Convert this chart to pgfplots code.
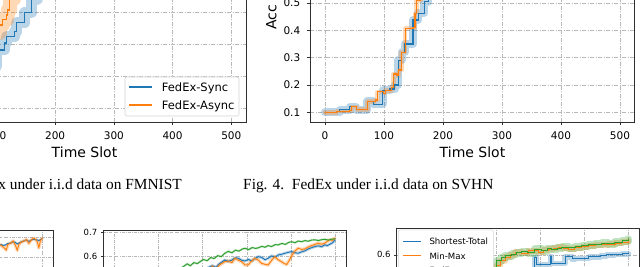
\documentclass[border=0pt]{standalone}
\usepackage{pgfplots}
\pgfplotsset{compat=1.18}
\usepackage{pgfplotstable}
\usepackage{fontspec}
\setmainfont{DejaVu Sans}
\newfontfamily\capfont{Liberation Serif}
\definecolor{mblue}{HTML}{1F77B4}
\definecolor{morange}{HTML}{FF7F0E}
\definecolor{mgreen}{HTML}{2CA02C}
\definecolor{gridc}{HTML}{B8B8B8}
\definecolor{spine}{HTML}{303030}

\pgfplotsset{
  mpl/.style={
    scale only axis,
    axis line style={draw=spine, line width=0.8pt},
    grid=major,
    tick align=outside,
    tick pos=left,
    tick style={draw=spine, line width=0.6pt},
    xtick={0,100,...,500},
    xmin=-25, xmax=525,
    /pgf/number format/assume math mode=true,
    yticklabel style={/pgf/number format/fixed, /pgf/number format/fixed zerofill, /pgf/number format/precision=1},
  },
  big/.style={mpl,
    major tick length=3.5pt,
    major grid style={draw=gridc, line width=0.6pt, dash pattern=on 4pt off 1.5pt on 1pt off 1.5pt},
    tick label style={font=\fontsize{10.5}{12}\selectfont},
    xticklabel style={/tikz/yshift=-3pt},
    yticklabel style={/tikz/xshift=-3pt},
    label style={font=\fontsize{14}{16}\selectfont},
  },
  small/.style={mpl,
    major tick length=2.5pt,
    major grid style={draw=gridc, line width=0.5pt, dash pattern=on 3pt off 1.2pt on 0.7pt off 1.2pt},
    tick label style={font=\fontsize{8.5}{10}\selectfont},
  },
  band/.style={forget plot, opacity=0.3, line join=round, line cap=round},
}

% ---------- top left (FMNIST) ----------
\pgfplotstableread{
x y
60 0.20
80 0.23
100 0.281
114.1 0.303
117 0.322
131.2 0.3375
134.1 0.366
148.2 0.397
159.6 0.44
170 0.48
182 0.52
195 0.56
210 0.60
}\tlb
\pgfplotstableread{
x y
60 0.27
80 0.31
95 0.335
105.6 0.359
110.7 0.375
117.4 0.39
119 0.406
122.6 0.44
130 0.48
140 0.52
152 0.56
165 0.60
}\tlo
% ---------- top right (SVHN) ----------
\pgfplotstableread{
x y
0 0.1
20 0.102
25 0.11
42 0.12
53 0.11
72 0.14
82 0.13
98 0.18
110 0.185
118 0.2
124 0.29
130 0.32
135 0.35
149 0.438
158 0.463
168 0.505
175 0.55
185 0.60
200 0.65
220 0.70
250 0.74
}\trb
\pgfplotstableread{
x y
0 0.1
20 0.104
42 0.108
45 0.12
54 0.11
72 0.14
85 0.145
89 0.175
99 0.17
102 0.18
113 0.19
116 0.24
122 0.235
125 0.255
130 0.32
136 0.408
149 0.41
152.5 0.463
155 0.51
162 0.57
170 0.62
185 0.68
210 0.73
}\tro
% ---------- bottom left ----------
\pgfplotstableread{
x y
395 0.66
405.7 0.665
413.2 0.66
418.5 0.665
422.2 0.67
428.3 0.672
434.3 0.68
439.6 0.675
443.4 0.668
447.1 0.672
452.4 0.678
458.4 0.683
464.5 0.688
469.7 0.68
475 0.688
479.5 0.692
484.8 0.69
488.6 0.688
492.4 0.685
496.1 0.69
500 0.695
}\blb
\pgfplotstableread{
x y
395 0.655
405.7 0.663
413.2 0.649
418.5 0.637
422.2 0.666
428.3 0.671
434.3 0.683
439.6 0.659
443.4 0.636
447.1 0.666
452.4 0.677
458.4 0.683
464.5 0.690
469.7 0.671
475 0.687
479.5 0.697
484.8 0.692
488.6 0.680
492.4 0.649
496.1 0.687
500 0.697
}\blo
% ---------- bottom middle ----------
\pgfplotstableread{
x y
140 0.53
150 0.552
156 0.558
165 0.57
172 0.562
180 0.575
188 0.571
194 0.579
202 0.588
210 0.583
218 0.596
226 0.592
234 0.604
242 0.6
250 0.614
258 0.622
266 0.616
274 0.627
282 0.623
290 0.632
296 0.635
304 0.629
312 0.638
320 0.634
326 0.637
334 0.643
341 0.639
348 0.646
356 0.642
364 0.65
371 0.649
379 0.655
387 0.651
394 0.659
401 0.662
409 0.658
416 0.665
424 0.662
431 0.667
439 0.664
446 0.669
454 0.67
462 0.667
470 0.671
477 0.672
485 0.669
492 0.673
499 0.674
}\bmg
\pgfplotstableread{
x y
140 0.49
150 0.505
158 0.52
166 0.512
174 0.53
182 0.525
190 0.54
198 0.548
206 0.542
214 0.556
222 0.562
230 0.555
238 0.57
244 0.578
250 0.586
258 0.58
266 0.586
274 0.595
281 0.593
288 0.585
296 0.582
304 0.588
311 0.582
318 0.592
326 0.6
334 0.596
341 0.587
348 0.593
356 0.603
364 0.598
371 0.607
379 0.61
386 0.614
394 0.618
401 0.621
409 0.616
416 0.614
424 0.62
431 0.624
439 0.632
446 0.637
454 0.642
462 0.645
469 0.641
476 0.649
482 0.646
488 0.652
494 0.658
499 0.67
}\bmb
\pgfplotstableread{
x y
140 0.47
150 0.49
158 0.51
166 0.498
174 0.522
182 0.515
190 0.535
198 0.528
206 0.548
214 0.54
222 0.56
230 0.548
238 0.566
244 0.572
250 0.579
258 0.582
266 0.575
273 0.593
281 0.585
288 0.579
296 0.565
303 0.566
310 0.58
318 0.593
326 0.585
333 0.572
341 0.568
348 0.565
356 0.585
363 0.6
370 0.588
378 0.579
384 0.572
390 0.567
396 0.585
401 0.603
408 0.622
416 0.635
424 0.63
431 0.632
439 0.64
446 0.646
454 0.651
461 0.656
469 0.652
476 0.656
482 0.664
488 0.67
494 0.668
499 0.677
}\bmo
% ---------- bottom right ----------
\pgfplotstableread{
x y
180 0.56
190 0.575
201.5 0.588
212 0.594
220.4 0.598
235.5 0.601
246 0.604
258 0.606
272 0.604
288 0.611
303 0.608
316 0.612
326 0.611
338 0.613
348.6 0.615
365 0.614
378.7 0.616
394 0.618
408.8 0.62
424 0.621
439 0.623
454 0.622
469 0.625
485 0.628
499.3 0.631
}\brg
\pgfplotstableread{
x y
180 0.555
200 0.578
210 0.588
220.4 0.595
232 0.6
243 0.605
258 0.603
273 0.608
296 0.605
307 0.609
318.6 0.611
330 0.613
341 0.615
352 0.613
363.7 0.611
378 0.614
394 0.616
409 0.618
424 0.62
439 0.62
454 0.621
470 0.623
484.6 0.625
499.7 0.628
}\bro
\pgfplotstableread{
x y
180 0.52
200 0.53
240 0.545
280 0.555
288 0.595
291 0.581
323 0.597
326 0.583
345 0.583
356 0.596
372 0.592
380 0.593
395 0.593
410 0.596
424 0.596
436 0.598
450 0.6
468 0.601
485 0.602
500 0.602
}\brb

\begin{document}
\begin{tikzpicture}
\fill[white] (0pt,0pt) rectangle (640pt,267pt);
\begin{scope}
\clip (0pt,0pt) rectangle (640pt,267pt);

% ===== top left =====
\begin{axis}[big, at={(-77pt,145pt)}, anchor=south west,
  width=323pt, height=209pt, ymin=0.056, ymax=0.709,
  ytick={0.1,0.2,...,0.7}, xlabel={Time Slot}, ylabel={Acc},
]
\addplot[band, mblue, line width=11pt, const plot] table[x=x,y=y]{\tlb};
\addplot[band, morange, line width=14pt, const plot] table[x=x,y=y]{\tlo};
\addplot[mblue, line width=1.2pt, const plot] table[x=x,y=y]{\tlb};
\addplot[morange, line width=1.2pt, const plot] table[x=x,y=y]{\tlo};
\end{axis}

% ===== top right =====
\begin{axis}[big, at={(310.25pt,145pt)}, anchor=south west,
  width=324.5pt, height=209pt, ymin=0.0645, ymax=0.83,
  ytick={0.1,0.2,...,0.8}, xlabel={Time Slot}, ylabel={Acc},
]
\addplot[band, mblue, line width=8pt, const plot] table[x=x,y=y]{\trb};
\addplot[band, morange, line width=4.5pt, const plot] table[x=x,y=y]{\tro};
\addplot[mblue, line width=1.2pt, const plot] table[x=x,y=y]{\trb};
\addplot[morange, line width=1.2pt, const plot] table[x=x,y=y]{\tro};
\end{axis}

% ===== bottom left =====
\begin{axis}[small, at={(53.3pt,37pt)}, anchor=north east,
  width=243.1pt, height=98.6pt, ymin=0.236, ymax=0.739,
  ytick={0.3,0.4,...,0.7},
]
\addplot[band, mblue, line width=2pt] table[x=x,y=y]{\blb};
\addplot[band, morange, line width=3.5pt] table[x=x,y=y]{\blo};
\addplot[mblue, line width=0.9pt] table[x=x,y=y]{\blb};
\addplot[morange, line width=0.9pt] table[x=x,y=y]{\blo};
\end{axis}

% ===== bottom middle =====
\begin{axis}[small, at={(103.25pt,37pt)}, anchor=north west,
  width=243.1pt, height=98.6pt, ymin=0.3, ymax=0.711,
  ytick={0.3,0.4,...,0.7},
]
\addplot[band, mblue, line width=3pt] table[x=x,y=y]{\bmb};
\addplot[band, morange, line width=3.4pt] table[x=x,y=y]{\bmo};
\addplot[band, mgreen, line width=2pt] table[x=x,y=y]{\bmg};
\addplot[mblue, line width=0.9pt] table[x=x,y=y]{\bmb};
\addplot[morange, line width=0.9pt] table[x=x,y=y]{\bmo};
\addplot[mgreen, line width=0.9pt] table[x=x,y=y]{\bmg};
\end{axis}

% ===== bottom right =====
\begin{axis}[small, at={(396.55pt,38.7pt)}, anchor=north west,
  width=243.1pt, height=98.6pt, ymin=0.456, ymax=0.653,
  ytick={0.5,0.6},
]
\addplot[band, mblue, line width=5.5pt, const plot] table[x=x,y=y]{\brb};
\addplot[band, morange, line width=6pt, const plot] table[x=x,y=y]{\bro};
\addplot[band, mgreen, line width=8pt, const plot] table[x=x,y=y]{\brg};
\addplot[mblue, line width=0.9pt, const plot] table[x=x,y=y]{\brb};
\addplot[morange, line width=0.9pt, const plot] table[x=x,y=y]{\bro};
\addplot[mgreen, line width=0.9pt, const plot] table[x=x,y=y]{\brg};
\end{axis}

% ===== legend, top left =====
\draw[draw=gridc!60, line width=0.6pt, rounded corners=2pt, fill=white] (125pt,151pt) rectangle (239pt,190pt);
\draw[mblue, line width=1.2pt] (129pt,180pt) -- (152pt,180pt);
\draw[morange, line width=1.2pt] (129pt,162pt) -- (152pt,162pt);
\node[anchor=base west, inner sep=0pt, font=\fontsize{11.5}{13}\selectfont] at (161.7pt,175.8pt) {FedEx-Sync};
\node[anchor=base west, inner sep=0pt, font=\fontsize{11.5}{13}\selectfont] at (161.7pt,157.8pt) {FedEx-Async};

% ===== legend, bottom right =====
\draw[draw=gridc!60, line width=0.5pt, rounded corners=2pt, fill=white] (398.3pt,37pt) rectangle (493.3pt,-20pt);
\draw[mblue, line width=1pt] (403.3pt,25.3pt) -- (421.3pt,25.3pt);
\draw[morange, line width=1pt] (403.3pt,11pt) -- (421.3pt,11pt);
\draw[mgreen, line width=1pt] (403.3pt,-3.3pt) -- (421.3pt,-3.3pt);
\node[anchor=base west, inner sep=0pt, font=\fontsize{8.6}{10}\selectfont] at (429.3pt,22.2pt) {Shortest-Total};
\node[anchor=base west, inner sep=0pt, font=\fontsize{8.6}{10}\selectfont] at (429.3pt,7.9pt) {Min-Max};
\node[anchor=base west, inner sep=0pt, font=\fontsize{8.6}{10}\selectfont] at (429.3pt,-6.4pt) {FedEx};
\end{scope}

% ===== captions =====
\node[anchor=base east, inner sep=0pt, font=\capfont\fontsize{15.4}{18}\selectfont] at (182pt,77.5pt) {Fig. 3.\ \ FedEx under i.i.d data on FMNIST};
\node[anchor=base west, inner sep=0pt, font=\capfont\fontsize{15.4}{18}\selectfont] at (243pt,77.5pt) {Fig. 4.\ \ FedEx under i.i.d data on SVHN};
\pgfresetboundingbox
\path[use as bounding box] (0pt,0pt) rectangle (640pt,267pt);
\end{tikzpicture}
\end{document}
